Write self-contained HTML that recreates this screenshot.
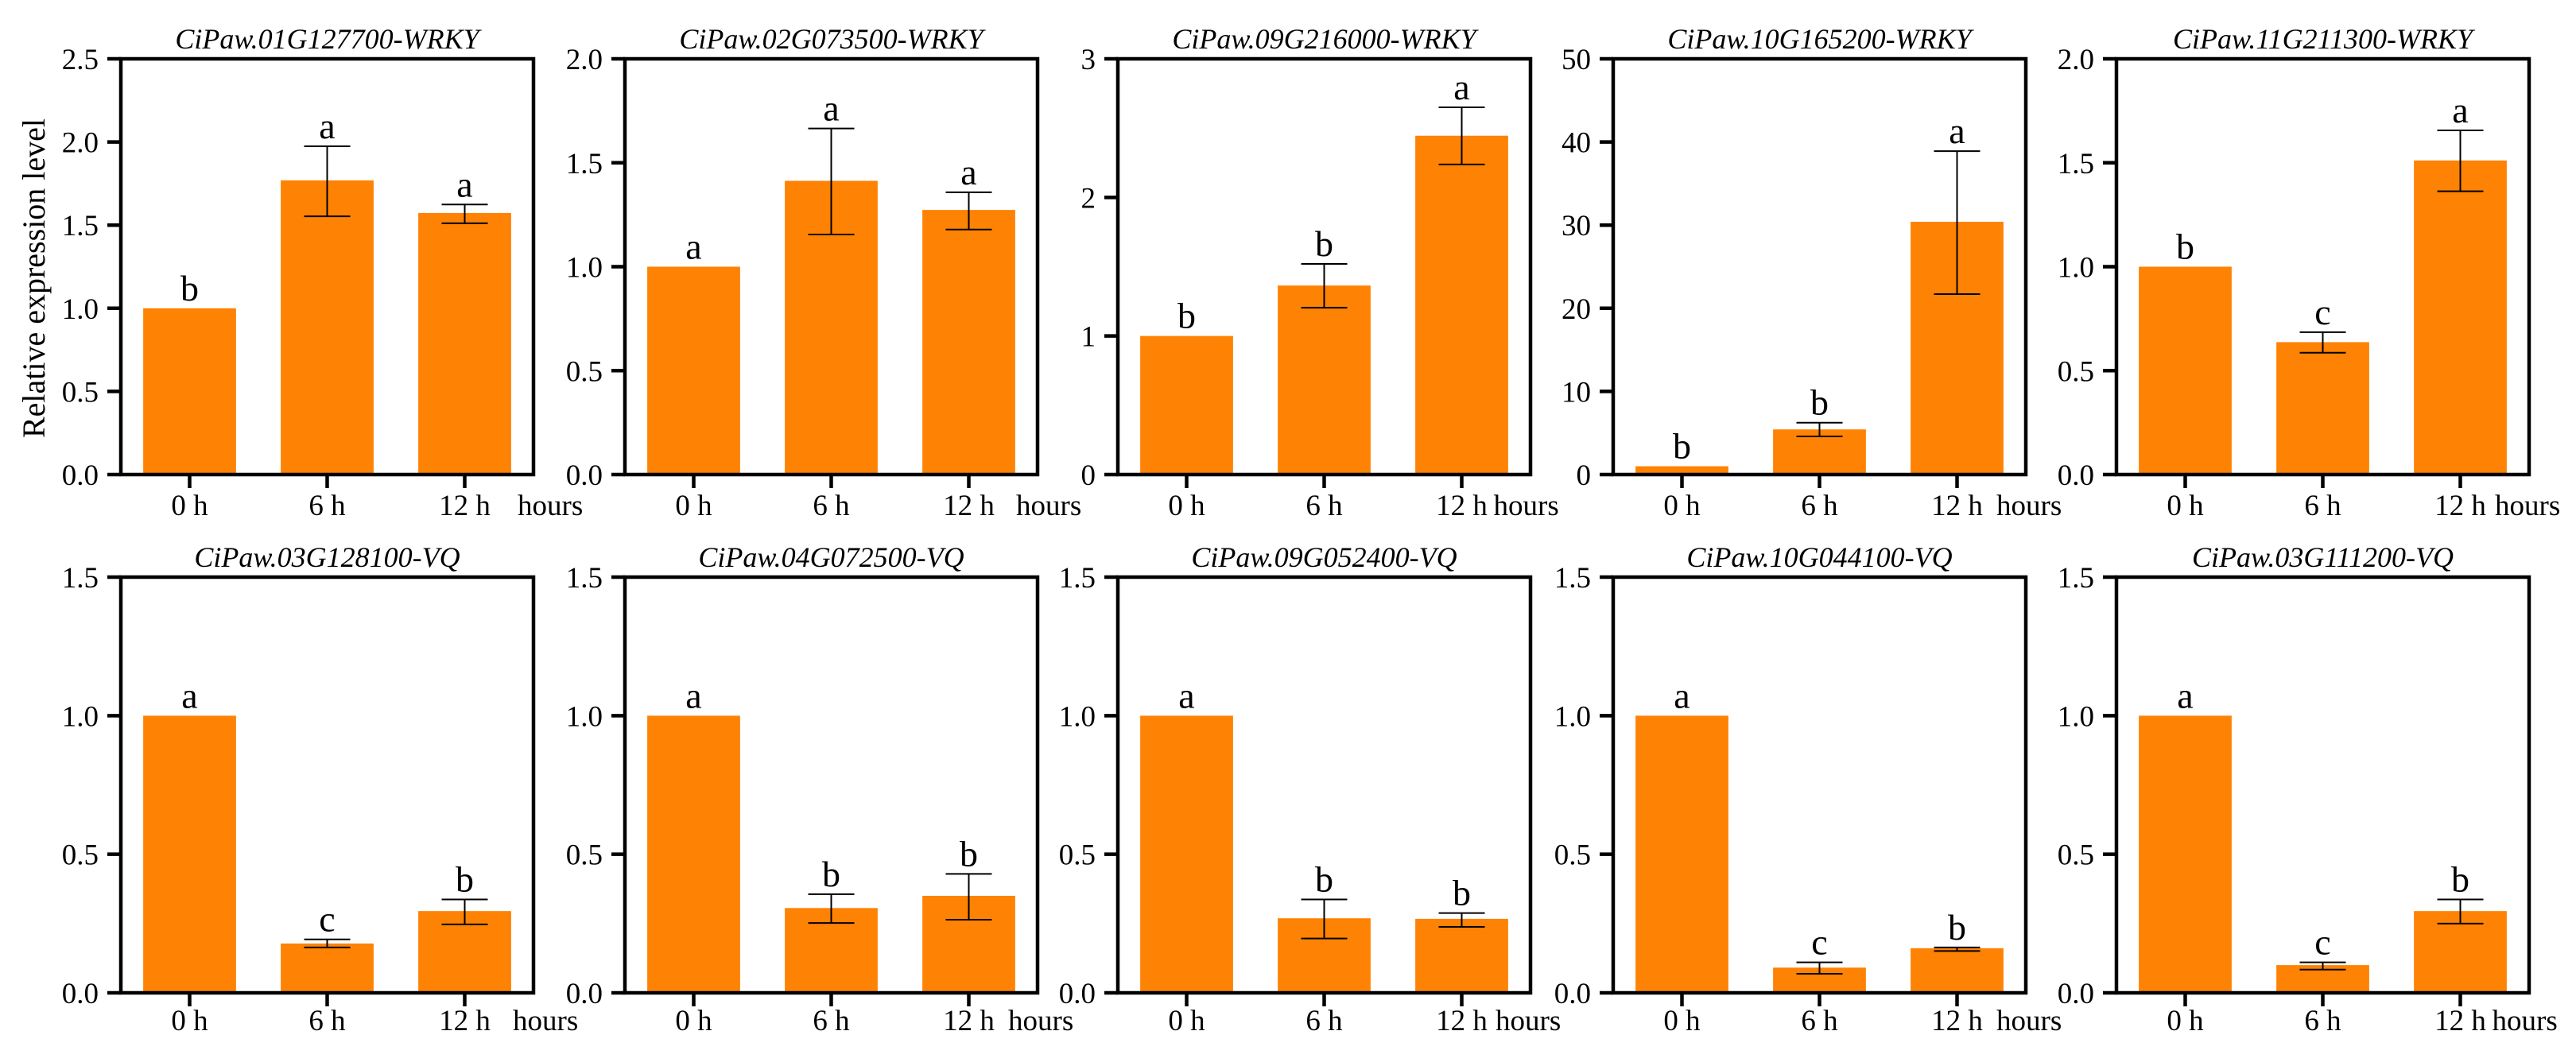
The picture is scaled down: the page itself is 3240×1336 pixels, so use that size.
<!DOCTYPE html>
<html><head><meta charset="utf-8"><style>
html,body{margin:0;padding:0;background:#fff;}
svg{display:block;}
text{font-family:"Liberation Serif","Times New Roman",serif;fill:#000;}
</style></head><body>
<svg id="fig" width="3240" height="1336" viewBox="0 0 3240 1336" xmlns="http://www.w3.org/2000/svg"></svg>
<script>
const categories = ["0 h","6 h","12 h"];
const titles = ["CiPaw.01G127700-WRKY","CiPaw.02G073500-WRKY","CiPaw.09G216000-WRKY","CiPaw.10G165200-WRKY","CiPaw.11G211300-WRKY",
 "CiPaw.03G128100-VQ","CiPaw.04G072500-VQ","CiPaw.09G052400-VQ","CiPaw.10G044100-VQ","CiPaw.03G111200-VQ"];
const values = [[1.0,1.769,1.573],[1.0,1.413,1.273],[1.0,1.364,2.445],[1.0,5.43,30.4],[1.0,0.637,1.511],
 [1.0,0.178,0.295],[1.0,0.306,0.35],[1.0,0.269,0.267],[1.0,0.091,0.161],[1.0,0.1,0.295]];
const errUpper = [[1.0,1.974,1.624],[1.0,1.665,1.358],[1.0,1.52,2.65],[1.0,6.24,38.9],[1.0,0.685,1.656],
 [1.0,0.193,0.337],[1.0,0.356,0.429],[1.0,0.337,0.288],[1.0,0.110,0.164],[1.0,0.11,0.337]];
const errLower = [[1.0,1.553,1.511],[1.0,1.155,1.179],[1.0,1.204,2.238],[1.0,4.59,21.7],[1.0,0.586,1.363],
 [1.0,0.164,0.247],[1.0,0.252,0.264],[1.0,0.196,0.238],[1.0,0.069,0.151],[1.0,0.084,0.25]];
const letters = [["b","a","a"],["a","a","a"],["b","b","a"],["b","b","a"],["b","c","a"],
 ["a","c","b"],["a","b","b"],["a","b","b"],["a","c","b"],["a","c","b"]];
const yMax = [2.5,2.0,3,50,2.0,1.5,1.5,1.5,1.5,1.5];
const tickLabels = [["0.0","0.5","1.0","1.5","2.0","2.5"],["0.0","0.5","1.0","1.5","2.0"],["0","1","2","3"],
 ["0","10","20","30","40","50"],["0.0","0.5","1.0","1.5","2.0"],
 ["0.0","0.5","1.0","1.5"],["0.0","0.5","1.0","1.5"],["0.0","0.5","1.0","1.5"],["0.0","0.5","1.0","1.5"],["0.0","0.5","1.0","1.5"]];

const NS="http://www.w3.org/2000/svg";
const svg=document.getElementById('fig');
const lefts=[152,786,1406,2029,2662];
const W=519;
const rows=[{top:74,bottom:597,title:61,xl:648},{top:726,bottom:1249,title:713,xl:1296}];
const hoursOff=[-20,-27,-69,-37,-43,-26,-37,-44,-37,-47];
function mk(tag,attrs,parent){const e=document.createElementNS(NS,tag);for(const k in attrs)e.setAttribute(k,attrs[k]);(parent||svg).appendChild(e);return e;}

for(let p=0;p<10;p++){
  const r=rows[Math.floor(p/5)], L=lefts[p%5], R=L+W, T=r.top, B=r.bottom;
  const g=mk('g',{});
  
  
  const y=v=>B-(v/yMax[p])*(B-T);
  const band=W/3, bw=band*0.675;
  const x=i=>L+band*(i+0.5);
  for(let i=0;i<3;i++){
    const b=mk('rect',{x:x(i)-bw/2,y:y(values[p][i]),width:bw,height:B-y(values[p][i]),fill:'#fe8204'},g);
    
    
    if(i>0){
      const eg=mk('g',{stroke:'#000','stroke-width':2},g);
      
      
      mk('line',{x1:x(i),x2:x(i),y1:y(errUpper[p][i]),y2:y(errLower[p][i])},eg);
      mk('line',{x1:x(i)-29,x2:x(i)+29,y1:y(errUpper[p][i]),y2:y(errUpper[p][i])},eg);
      mk('line',{x1:x(i)-29,x2:x(i)+29,y1:y(errLower[p][i]),y2:y(errLower[p][i])},eg);
    }
    const top=Math.min(y(values[p][i]),y(errUpper[p][i]));
    const lt=mk('text',{x:x(i),y:top-10,'font-size':46,'text-anchor':'middle'},g);
    lt.textContent=letters[p][i];
    
    
    mk('line',{x1:x(i),x2:x(i),y1:B,y2:B+17,stroke:'#000','stroke-width':4.5},g);
    const xl=mk('text',{x:x(i),y:r.xl,'font-size':37,'text-anchor':'middle'},g);
    xl.textContent=categories[i];
    
    
  }
  const fr=mk('rect',{x:L,y:T,width:W,height:B-T,fill:'none',stroke:'#000','stroke-width':4.5},g);
  
  
  const tl=tickLabels[p];
  for(let k=0;k<tl.length;k++){
    const v=yMax[p]*k/(tl.length-1);
    mk('line',{x1:L-17,x2:L,y1:y(v),y2:y(v),stroke:'#000','stroke-width':4.5},g);
    const t=mk('text',{x:L-28,y:y(v)+13,'font-size':37,'text-anchor':'end'},g);
    t.textContent=tl[k];
    
    
  }
  const tt=mk('text',{x:L+W/2,y:r.title,'font-size':36,'font-style':'italic','text-anchor':'middle'},g);
  tt.textContent=titles[p];
  
  
  const hx=Math.max(R+hoursOff[p], x(2)+40);
  const h=mk('text',{x:hx,y:r.xl,'font-size':37},g);
  h.textContent='hours';
  
  
}
const yt=mk('text',{x:0,y:0,'font-size':40,'text-anchor':'middle',transform:'translate(56,350) rotate(-90)'});
yt.textContent='Relative expression level';


</script>
</body></html>
